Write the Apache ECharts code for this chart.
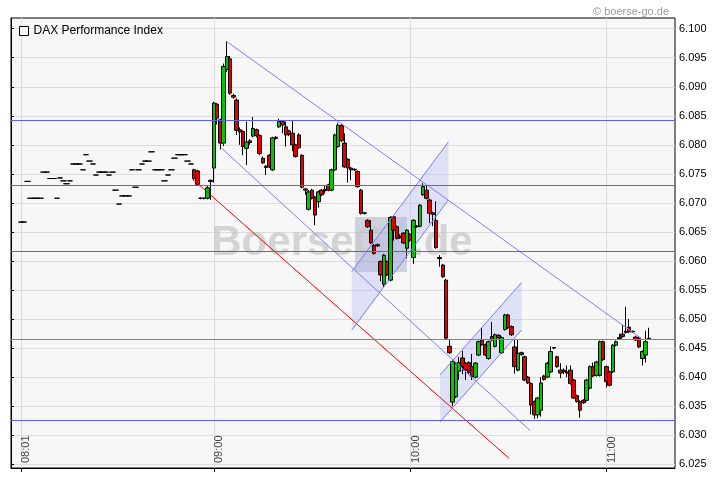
<!DOCTYPE html>
<html><head><meta charset="utf-8">
<script src="https://cdn.jsdelivr.net/npm/echarts@6/dist/echarts.min.js"></script>
<style>html,body{margin:0;padding:0;background:#fff}#c{width:720px;height:481px}</style>
</head><body><div id="c"></div>
<script>
// ---------- data ----------
const axisStart = '07:58', axisEnd = '11:21';
const xTickLabels = ['08:01', '09:00', '10:00', '11:00'];
const yTicks = [6025, 6030, 6035, 6040, 6045, 6050, 6055, 6060, 6065, 6070, 6075, 6080, 6085, 6090, 6095, 6100];
const yMin = 6024.35, yMax = 6101.84;

// pre-market quotes (one value per minute from 08:01)
const preMarketStart = '08:01';
const preMarket = [6066.7, 6066.7, 6073.7, 6070.8, 6070.8, 6070.8, 6070.8, 6075.3, 6075.3, 6074.2,
  6074.2, 6070.8, 6074.3, 6073.8, 6073.3, 6073.8, 6076.7, 6076.7, 6076.7, 6075.7,
  6078.3, 6077.2, 6076.7, 6074.8, 6075.3, 6075.3, 6075.3, 6074.8, 6075.3, 6072.2,
  6069.8, 6071.2, 6071.2, 6071.2, 6075.7, 6072.7, 6075.7, 6076.7, 6077.2, 6077.2,
  6078.8, 6075.7, 6075.7, 6075.7, 6073.8, 6074.8, 6075.7, 6077.7, 6078.3, 6078.3,
  6078.3, 6077.2, 6076.7];

// 1-minute candles from 08:54
const sessionStart = '08:54';
const opens = [6075.7, 6075.5, 6070.8, 6070.8, 6070.8, 6073.9, 6076.0, 6087.0, 6084.3, 6080.3,
  6093.0, 6094.8, 6088.5, 6087.7, 6082.6, 6082.3, 6079.4, 6080.7, 6081.5, 6082.6,
  6081.6, 6077.7, 6076.3, 6078.2, 6075.7, 6081.3, 6083.1, 6084.0, 6083.1, 6082.4,
  6082.0, 6080.0, 6081.7, 6078.2, 6072.4, 6068.9, 6072.2, 6071.0, 6070.2, 6072.2,
  6072.3, 6073.1, 6072.2, 6075.7, 6079.7, 6083.3, 6080.3, 6077.5, 6076.0, 6075.8,
  6075.4, 6072.2, 6068.3, 6067.0, 6065.3, 6062.7, 6062.8, 6059.9, 6056.0, 6059.9,
  6056.7, 6067.6, 6065.9, 6064.3, 6064.8, 6062.2, 6064.6, 6060.6, 6066.0, 6066.0,
  6071.4, 6072.2, 6070.5, 6068.3, 6067.0, 6060.6, 6059.3, 6056.7, 6045.3, 6035.7,
  6036.6, 6041.0, 6043.3, 6042.4, 6042.5, 6041.8, 6040.0, 6043.8, 6046.4, 6045.6,
  6043.2, 6047.0, 6045.3, 6047.2, 6044.2, 6048.2, 6050.7, 6048.7, 6045.2, 6041.2,
  6044.2, 6043.5, 6040.0, 6038.9, 6035.8, 6033.5, 6034.3, 6040.2, 6040.0, 6040.9,
  6045.1, 6043.5, 6041.2, 6041.2, 6040.9, 6041.2, 6039.5, 6036.8, 6035.8, 6036.0,
  6036.0, 6038.1, 6041.8, 6040.3, 6040.3, 6046.1, 6041.8, 6040.9, 6040.9, 6045.5,
  6046.8, 6047.4, 6047.9, 6048.6, 6047.9, 6046.9, 6046.7, 6043.2, 6043.8, 6046.7];
const closes = [6074.2, 6073.2, 6070.8, 6070.8, 6072.6, 6073.7, 6087.2, 6084.6, 6080.3, 6093.5,
  6095.2, 6088.9, 6088.2, 6082.5, 6082.2, 6079.7, 6080.5, 6080.4, 6082.8, 6081.6,
  6078.5, 6076.9, 6076.1, 6076.2, 6081.2, 6081.1, 6084.0, 6083.4, 6081.7, 6081.8,
  6080.0, 6078.0, 6079.5, 6072.7, 6072.2, 6071.9, 6070.8, 6067.9, 6071.9, 6071.4,
  6072.1, 6072.2, 6075.7, 6081.7, 6083.4, 6080.7, 6076.2, 6076.0, 6075.7, 6075.7,
  6072.8, 6068.2, 6068.2, 6065.9, 6063.1, 6061.3, 6062.6, 6057.6, 6061.0, 6057.6,
  6067.5, 6065.3, 6063.9, 6064.0, 6063.1, 6065.3, 6063.6, 6067.0, 6065.9, 6069.6,
  6072.8, 6070.8, 6068.2, 6068.0, 6062.3, 6060.4, 6057.3, 6046.7, 6044.2, 6042.7,
  6042.4, 6042.5, 6041.8, 6041.2, 6040.8, 6040.1, 6042.4, 6046.1, 6045.6, 6043.8,
  6046.1, 6046.4, 6047.3, 6046.8, 6046.8, 6050.7, 6048.5, 6047.3, 6041.8, 6044.1,
  6043.9, 6039.5, 6039.0, 6035.2, 6033.5, 6036.4, 6039.0, 6039.6, 6042.4, 6044.4,
  6045.0, 6041.8, 6040.7, 6040.9, 6040.7, 6038.9, 6036.4, 6035.8, 6034.3, 6035.6,
  6039.5, 6041.8, 6040.2, 6042.6, 6046.1, 6043.0, 6039.2, 6038.6, 6045.5, 6046.1,
  6046.6, 6047.0, 6047.7, 6047.8, 6047.8, 6046.4, 6045.2, 6044.4, 6046.1, 6046.6];
const lows = [6073.9, 6073.0, 6070.6, 6070.6, 6070.6, 6070.5, 6073.5, 6083.5, 6079.2, 6079.8,
  6092.5, 6088.6, 6087.9, 6081.7, 6080.0, 6078.2, 6076.5, 6080.0, 6081.3, 6081.3,
  6078.2, 6076.7, 6074.8, 6076.0, 6075.5, 6080.9, 6082.9, 6082.0, 6079.7, 6081.5,
  6078.9, 6077.8, 6079.3, 6072.5, 6071.4, 6068.7, 6070.6, 6066.2, 6069.2, 6071.2,
  6071.6, 6072.0, 6072.0, 6075.5, 6079.5, 6080.5, 6076.0, 6073.5, 6073.9, 6075.5,
  6072.6, 6068.0, 6068.0, 6065.7, 6062.9, 6061.1, 6062.4, 6056.5, 6055.5, 6057.4,
  6056.5, 6063.5, 6063.7, 6063.8, 6062.9, 6060.5, 6063.3, 6059.5, 6065.7, 6065.8,
  6071.2, 6070.6, 6066.5, 6066.0, 6062.1, 6059.0, 6057.1, 6046.5, 6044.0, 6035.0,
  6036.4, 6039.5, 6040.5, 6039.5, 6040.5, 6039.5, 6039.8, 6043.6, 6045.4, 6043.6,
  6043.0, 6046.2, 6045.1, 6046.6, 6044.0, 6048.0, 6048.3, 6047.1, 6040.6, 6041.0,
  6043.7, 6039.3, 6038.8, 6033.6, 6032.8, 6032.9, 6033.2, 6039.4, 6039.8, 6040.7,
  6044.8, 6041.6, 6039.8, 6040.5, 6040.0, 6038.7, 6036.2, 6035.6, 6033.0, 6035.4,
  6035.8, 6037.9, 6040.0, 6040.1, 6040.1, 6042.8, 6038.2, 6038.4, 6040.7, 6045.3,
  6046.4, 6046.8, 6047.5, 6047.6, 6047.6, 6046.2, 6045.0, 6042.0, 6042.5, 6046.4];
const highs = [6075.9, 6075.7, 6071.0, 6070.9, 6073.0, 6074.0, 6087.4, 6087.2, 6084.5, 6094.0,
  6097.8, 6095.3, 6088.8, 6088.0, 6083.0, 6082.5, 6084.0, 6081.0, 6084.8, 6082.8,
  6081.8, 6078.0, 6076.5, 6078.4, 6081.4, 6081.5, 6084.5, 6084.3, 6084.0, 6082.6,
  6084.2, 6080.2, 6082.0, 6078.4, 6072.6, 6072.2, 6072.4, 6071.2, 6072.1, 6072.4,
  6073.1, 6073.3, 6075.9, 6081.9, 6083.8, 6083.6, 6082.0, 6077.7, 6076.2, 6075.9,
  6075.6, 6072.4, 6068.4, 6067.2, 6067.0, 6062.9, 6063.0, 6060.1, 6061.2, 6060.1,
  6067.7, 6067.8, 6066.1, 6064.6, 6065.0, 6065.5, 6064.8, 6067.2, 6066.2, 6069.8,
  6073.4, 6073.0, 6070.7, 6068.5, 6070.3, 6061.0, 6059.5, 6056.9, 6046.5, 6043.0,
  6042.6, 6043.5, 6044.5, 6042.6, 6042.7, 6044.0, 6042.6, 6046.3, 6048.5, 6045.8,
  6046.3, 6049.5, 6047.5, 6047.4, 6047.0, 6050.9, 6050.9, 6048.9, 6046.5, 6046.4,
  6044.4, 6043.7, 6040.2, 6039.1, 6036.0, 6036.6, 6040.0, 6040.4, 6042.6, 6045.3,
  6045.2, 6043.7, 6042.4, 6041.5, 6042.0, 6042.0, 6039.7, 6037.0, 6036.0, 6036.2,
  6039.7, 6042.0, 6042.5, 6042.8, 6046.3, 6046.3, 6042.0, 6041.1, 6045.7, 6046.3,
  6047.5, 6049.0, 6052.1, 6050.0, 6048.0, 6047.1, 6046.9, 6044.6, 6048.0, 6048.5];

// horizontal support / resistance levels
const blueLevels = [6084.3, 6073.0, 6061.7, 6032.5];
const greenLevel = 6046.6;

// trend lines: [minutesFromAxisStart, value] pairs
const blueTrendLines = [
  [[65.9, 6097.8], [192.6, 6046.7]],
  [[64.4, 6079.4], [158.7, 6030.8]]
];
const redTrendLine = [[55.5, 6074.1], [152.3, 6026.0]];
// channels: [xStart, upperStart, lowerStart, xEnd, upperEnd, lowerEnd]
const channels = [
  [104.2, 6058.2, 6048.1, 133.7, 6080.5, 6070.5],
  [131.2, 6040.4, 6032.3, 156.1, 6056.3, 6048.1]
];

// ---------- helpers ----------
const toMin = s => { const [h, m] = s.split(':').map(Number); return h * 60 + m; };
const fmt = m => String(Math.floor(m / 60)).padStart(2, '0') + ':' + String(m % 60).padStart(2, '0');
const categories = [];
for (let m = toMin(axisStart); m <= toMin(axisEnd); m++) categories.push(fmt(m));
const xSpan = toMin(axisEnd) - toMin(axisStart);

const preRows = preMarket.map((v, k) => [fmt(toMin(preMarketStart) + k), v, v, v, v]);
const sessionRows = opens.map((o, k) => [fmt(toMin(sessionStart) + k), o, closes[k], lows[k], highs[k]]);

const FONT = '"Liberation Sans", Arial, sans-serif';
const SERIES_NAME = 'DAX Performance Index';
const showAt = (i, v) => xTickLabels.indexOf(v) >= 0;
const yFmt = v => Math.floor(v / 1000) + '.' + String(Math.round(v % 1000)).padStart(3, '0');

const candleStyle = {
  color: '#00c800', color0: '#e00000',
  borderColor: '#000', borderColor0: '#000', borderColorDoji: '#000', borderWidth: 1
};
const lineSeries = (pts, color, name) => ({
  type: 'line', name: name, xAxisIndex: 1, yAxisIndex: 0, data: pts,
  showSymbol: false, symbol: 'none', silent: true, z: 4,
  lineStyle: { color: color, width: 1 }, animation: false
});

const chart = echarts.init(document.getElementById('c'), null, { renderer: 'canvas' });
chart.setOption({
  animation: false,
  backgroundColor: '#ffffff',
  textStyle: { fontFamily: FONT },
  title: {
    text: '© boerse-go.de', right: 46, top: 1,
    textStyle: { fontSize: 11, fontWeight: 'normal', color: '#9a9a9a', fontFamily: FONT }
  },
  legend: {
    left: 14, top: 20, icon: 'rect', itemWidth: 9, itemHeight: 9,
    data: [SERIES_NAME],
    itemStyle: { color: '#f7f7f7', borderColor: '#000', borderWidth: 1 },
    textStyle: { fontSize: 12, color: '#000', fontFamily: FONT },
    selectedMode: false
  },
  grid: {
    left: 11, right: 45, top: 18, bottom: 13, show: true,
    backgroundColor: '#f7f7f7', borderColor: '#000', borderWidth: 1
  },
  xAxis: [{
    type: 'category', data: categories, boundaryGap: false,
    axisLine: { lineStyle: { color: '#000' } },
    axisTick: { show: true, interval: showAt, length: 4, lineStyle: { color: '#000' } },
    axisLabel: {
      inside: true, rotate: 90, interval: showAt, margin: 5,
      fontSize: 11, color: '#444', verticalAlign: 'top', align: 'left'
    },
    splitLine: { show: true, interval: showAt, lineStyle: { color: '#dcdcdc' } }
  }, {
    type: 'value', min: 0, max: xSpan, show: false
  }],
  yAxis: {
    type: 'value', position: 'right', min: yMin, max: yMax, scale: true,
    axisLine: { show: true, lineStyle: { color: '#000' } },
    axisTick: { show: true, length: 3, customValues: yTicks, lineStyle: { color: '#000' } },
    axisLabel: { customValues: yTicks, formatter: yFmt, fontSize: 11, color: '#000', margin: 4 },
    splitLine: { show: true, lineStyle: { color: '#dcdcdc' } }
  },
  graphic: [
    { type: 'rect', silent: true, z: 1, shape: { x: 355, y: 217, width: 52, height: 55 },
      style: { fill: 'rgba(110,125,165,0.30)' } },
    { type: 'text', silent: true, z: 1, x: 342, y: 243,
      style: { text: 'BoerseGo.de', font: 'bold 42px ' + FONT, fill: 'rgba(200,200,200,0.75)',
        textAlign: 'center', textVerticalAlign: 'middle' } }
  ],
  series: [
    {
      type: 'custom', xAxisIndex: 1, yAxisIndex: 0, silent: true, z: 1,
      data: channels, encode: { x: [0, 3], y: [1, 2, 4, 5] },
      renderItem: (params, api) => {
        const a = api.coord([api.value(0), api.value(1)]);
        const b = api.coord([api.value(3), api.value(4)]);
        const c = api.coord([api.value(3), api.value(5)]);
        const d = api.coord([api.value(0), api.value(2)]);
        return { type: 'polygon', shape: { points: [a, b, c, d] },
          style: { fill: 'rgba(175,180,240,0.35)', stroke: null } };
      }
    },
    {
      type: 'candlestick', name: SERIES_NAME, data: preRows,
      encode: { x: 0, y: [1, 2, 3, 4] }, barWidth: 6, z: 3, itemStyle: candleStyle
    },
    {
      type: 'candlestick', name: SERIES_NAME, data: sessionRows,
      encode: { x: 0, y: [1, 2, 3, 4] }, barWidth: 4, z: 3, itemStyle: candleStyle,
      markLine: {
        silent: true, symbol: 'none', label: { show: false }, animation: false,
        data: blueLevels.map(v => ({ yAxis: v, lineStyle: { color: '#5e5ef5', width: 1, type: 'solid' } }))
          .concat([{ yAxis: greenLevel, lineStyle: { color: '#00e000', width: 1, type: 'solid' } }])
      }
    },
    lineSeries(blueTrendLines[0], '#7f7ff2', 't1'),
    lineSeries(blueTrendLines[1], '#7f7ff2', 't2'),
    lineSeries(redTrendLine, '#ff0000', 't3'),
    lineSeries([[channels[0][0], channels[0][1]], [channels[0][3], channels[0][4]]], '#7a7af5', 'c1u'),
    lineSeries([[channels[0][0], channels[0][2]], [channels[0][3], channels[0][5]]], '#7a7af5', 'c1l'),
    lineSeries([[channels[1][0], channels[1][1]], [channels[1][3], channels[1][4]]], '#7a7af5', 'c2u'),
    lineSeries([[channels[1][0], channels[1][2]], [channels[1][3], channels[1][5]]], '#7a7af5', 'c2l')
  ]
});
</script></body></html>
